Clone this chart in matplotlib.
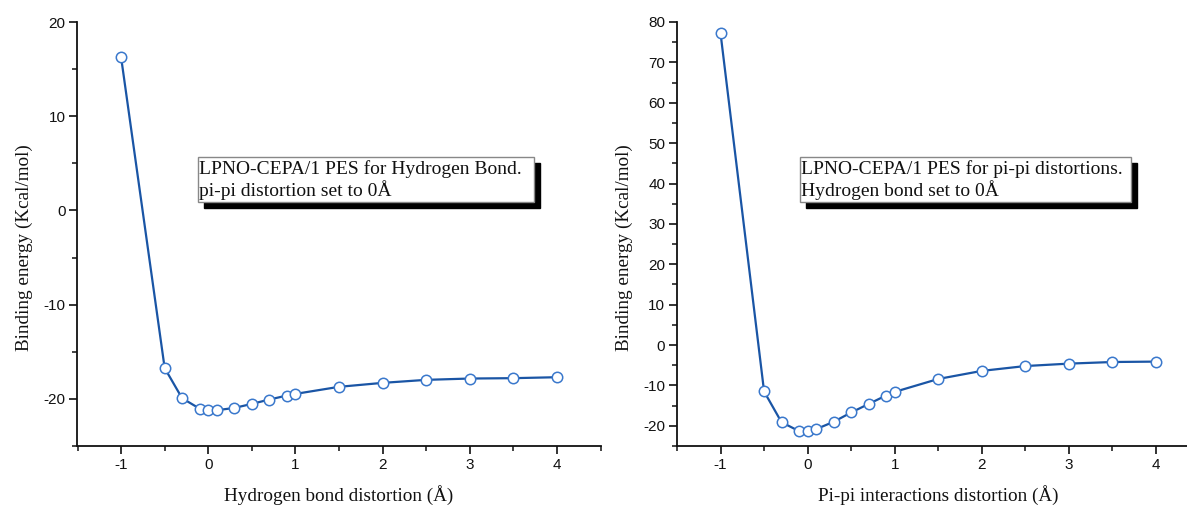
import matplotlib
matplotlib.use("Agg")
import matplotlib.pyplot as plt
from matplotlib.ticker import MultipleLocator
from matplotlib.patches import Rectangle

plt.rcParams["axes.unicode_minus"] = False

# ---- data ----
distortion = [-1, -0.5, -0.3, -0.1, 0, 0.1, 0.3, 0.5, 0.7, 0.9, 1.0, 1.5, 2, 2.5, 3, 3.5, 4]
hbond_energy = [16.27, -16.73, -19.93, -21.03, -21.2, -21.2, -20.96, -20.53, -20.07,
                -19.65, -19.47, -18.72, -18.3, -17.98, -17.84, -17.8, -17.7]
pipi_energy = [77.2, -11.5, -19.1, -21.3, -21.4, -20.8, -19.0, -16.7, -14.6,
               -12.5, -11.6, -8.4, -6.4, -5.2, -4.6, -4.2, -4.1]

x_labels = ["Hydrogen bond distortion (Å)", "Pi-pi interactions distortion (Å)"]
y_label = "Binding energy (Kcal/mol)"
box_texts = ["LPNO-CEPA/1 PES for Hydrogen Bond.\npi-pi distortion set to 0Å",
             "LPNO-CEPA/1 PES for pi-pi distortions.\nHydrogen bond set to 0Å"]

W, H = 1187, 508
fig = plt.figure(figsize=(W / 100, H / 100), dpi=100)

serif = ["Liberation Serif", "DejaVu Serif"]
sans = ["Liberation Sans", "DejaVu Sans"]

line_col = "#1a55a5"
edge_col = "#3a78cc"

def px_axes(x0, x1, y0, y1):
    return fig.add_axes([x0 / W, 1 - y1 / H, (x1 - x0) / W, (y1 - y0) / H])

def style(ax, ylim, ymaj, xlabel, ylab_x, text, box):
    ax.set_xlim(-1.5, 4.5)
    ax.set_ylim(*ylim)
    ax.xaxis.set_major_locator(MultipleLocator(1))
    ax.xaxis.set_minor_locator(MultipleLocator(0.5))
    ax.yaxis.set_major_locator(MultipleLocator(ymaj))
    ax.yaxis.set_minor_locator(MultipleLocator(ymaj / 2))
    for s in ["top", "right"]:
        ax.spines[s].set_visible(False)
    for s in ["left", "bottom"]:
        ax.spines[s].set_linewidth(1.3)
        ax.spines[s].set_color("#111111")
    ax.tick_params(which="major", direction="out", length=5.5, width=1.2, colors="#111111",
                   labelsize=11, pad=3)
    ax.tick_params(which="minor", direction="out", length=3.5, width=1.1, colors="#111111")
    for lab in ax.get_xticklabels() + ax.get_yticklabels():
        lab.set_fontfamily(sans)
    ax.set_xlabel(xlabel, fontfamily=serif, fontsize=13.8, color="#111111", va="center")
    ax.xaxis.set_label_coords(0.5, -0.1156)
    ax.set_ylabel(y_label, fontfamily=serif, fontsize=13.8, color="#111111", va="center")
    ax.yaxis.set_label_coords(ylab_x, 0.467)
    ax.patch.set_alpha(0)
    bx0, by0, bx1, by1 = box
    pos = ax.get_position()
    def fx(px):
        return (px / W - pos.x0) / pos.width
    def fy(py):
        return ((1 - py / H) - pos.y0) / pos.height
    sh = 6
    ax.add_patch(Rectangle((fx(bx0 + sh), fy(by1 + sh)), fx(bx1 + sh) - fx(bx0 + sh),
                           fy(by0 + sh) - fy(by1 + sh), transform=ax.transAxes,
                           facecolor="black", edgecolor="black", zorder=4, clip_on=False))
    ax.add_patch(Rectangle((fx(bx0), fy(by1)), fx(bx1) - fx(bx0), fy(by0) - fy(by1),
                           transform=ax.transAxes, facecolor="white", edgecolor="#888888",
                           linewidth=1.0, zorder=5, clip_on=False))
    ax.text(fx(bx0 + 1), fy(by0 + 23), text, transform=ax.transAxes, fontfamily=serif,
            fontsize=14, va="center", ha="left", zorder=6, linespacing=1.15,
            color="#111111")

ax1 = px_axes(77.5, 600.5, 22, 446)
ax1.plot(distortion, hbond_energy, color=line_col, lw=1.6, marker="o", ms=7.5,
         mfc="white", mec=edge_col, mew=1.1, zorder=3, clip_on=False)
style(ax1, (-25, 20), 10, x_labels[0], -0.102, box_texts[0], (198, 157, 534, 202))

ax2 = px_axes(677, 1199.5, 22, 446)
ax2.plot(distortion, pipi_energy, color=line_col, lw=1.6, marker="o", ms=7.5,
         mfc="white", mec=edge_col, mew=1.1, zorder=3, clip_on=False)
style(ax2, (-25, 80), 10, x_labels[1], -0.101, box_texts[1], (800, 157, 1131, 202))

fig.savefig("out.png", dpi=100)
